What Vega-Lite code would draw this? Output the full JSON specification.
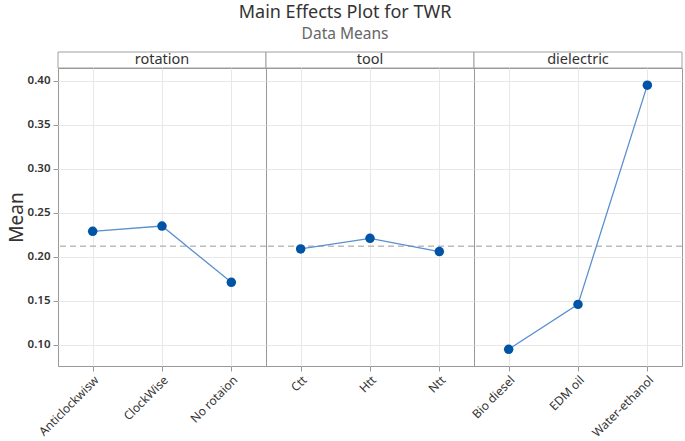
{
  "$schema": "https://vega.github.io/schema/vega-lite/v6.json",
  "background": "white",
  "padding": {"left": 7, "top": 4, "right": 3, "bottom": 0},
  "title": {
    "text": "Main Effects Plot for TWR",
    "subtitle": "Data Means",
    "anchor": "middle",
    "frame": "bounds",
    "font": "Noto Sans",
    "fontSize": 18,
    "fontWeight": "normal",
    "color": "#333333",
    "subtitleFont": "Noto Sans",
    "subtitleFontSize": 15.5,
    "subtitleColor": "#666666",
    "subtitlePadding": 5,
    "offset": 9
  },
  "config": {
    "font": "Noto Sans",
    "view": {"stroke": "#999999", "strokeWidth": 1},
    "axis": {
      "gridColor": "#e8e8e8",
      "tickColor": "#9a9a9a",
      "domain": false,
      "labelColor": "#333333",
      "titleColor": "#333333"
    }
  },
  "datasets": {
    "means": [
      {"factor": "rotation", "level": "Anticlockwisw", "mean": 0.229},
      {"factor": "rotation", "level": "ClockWise", "mean": 0.235},
      {"factor": "rotation", "level": "No rotaion", "mean": 0.171},
      {"factor": "tool", "level": "Ctt", "mean": 0.209},
      {"factor": "tool", "level": "Htt", "mean": 0.221},
      {"factor": "tool", "level": "Ntt", "mean": 0.206},
      {"factor": "dielectric", "level": "Bio diesel", "mean": 0.095},
      {"factor": "dielectric", "level": "EDM oil", "mean": 0.146},
      {"factor": "dielectric", "level": "Water-ethanol", "mean": 0.395}
    ],
    "factors": [
      {"factor": "rotation"},
      {"factor": "tool"},
      {"factor": "dielectric"}
    ]
  },
  "vconcat": [
    {
      "data": {"name": "factors"},
      "facet": {
        "column": {"field": "factor", "type": "nominal", "sort": ["rotation", "tool", "dielectric"], "header": null}
      },
      "spacing": 0,
      "bounds": "flush",
      "spec": {
        "width": 208,
        "height": 16,
        "layer": [
          {
            "mark": {"type": "rect", "fill": "white", "stroke": "#a0a0a0", "strokeWidth": 1},
            "encoding": {}
          },
          {
            "mark": {"type": "text", "fontSize": 14.5, "color": "#333333", "baseline": "middle", "dy": 0},
            "encoding": {"text": {"field": "factor", "type": "nominal"}}
          }
        ]
      }
    },
    {
      "data": {"name": "means"},
      "facet": {
        "column": {"field": "factor", "type": "nominal", "sort": ["rotation", "tool", "dielectric"], "header": null}
      },
      "spacing": 0,
      "bounds": "flush",
      "resolve": {"scale": {"x": "independent"}},
      "spec": {
        "width": 208,
        "height": 298,
        "encoding": {
          "x": {
            "field": "level",
            "type": "nominal",
            "sort": ["Anticlockwisw", "ClockWise", "No rotaion", "Ctt", "Htt", "Ntt", "Bio diesel", "EDM oil", "Water-ethanol"],
            "scale": {"type": "point", "padding": 0.5},
            "axis": {"title": null, "labelAngle": -45, "labelFontSize": 12, "grid": true, "tickSize": 5, "labelPadding": 3}
          },
          "y": {
            "field": "mean",
            "type": "quantitative",
            "scale": {"domain": [0.076, 0.4145], "nice": false, "zero": false},
            "axis": {"title": "Mean", "titleFontSize": 19, "titleFontWeight": "normal", "values": [0.1, 0.15, 0.2, 0.25, 0.3, 0.35, 0.4], "format": ".2f", "labelFontSize": 11.5, "labelFontWeight": 600, "tickSize": 5, "labelPadding": 3, "titlePadding": 1}
          }
        },
        "layer": [
          {
            "mark": {"type": "rule", "color": "#bdbdbd", "strokeDash": [6, 4], "strokeWidth": 1},
            "encoding": {"y": {"datum": 0.212}, "x": null}
          },
          {
            "mark": {"type": "line", "color": "#5b8fd0", "strokeWidth": 1.3}
          },
          {
            "mark": {"type": "point", "filled": true, "color": "#0054a6", "size": 90, "opacity": 1}
          }
        ]
      }
    }
  ],
  "spacing": 16,
  "bounds": "flush"
}
